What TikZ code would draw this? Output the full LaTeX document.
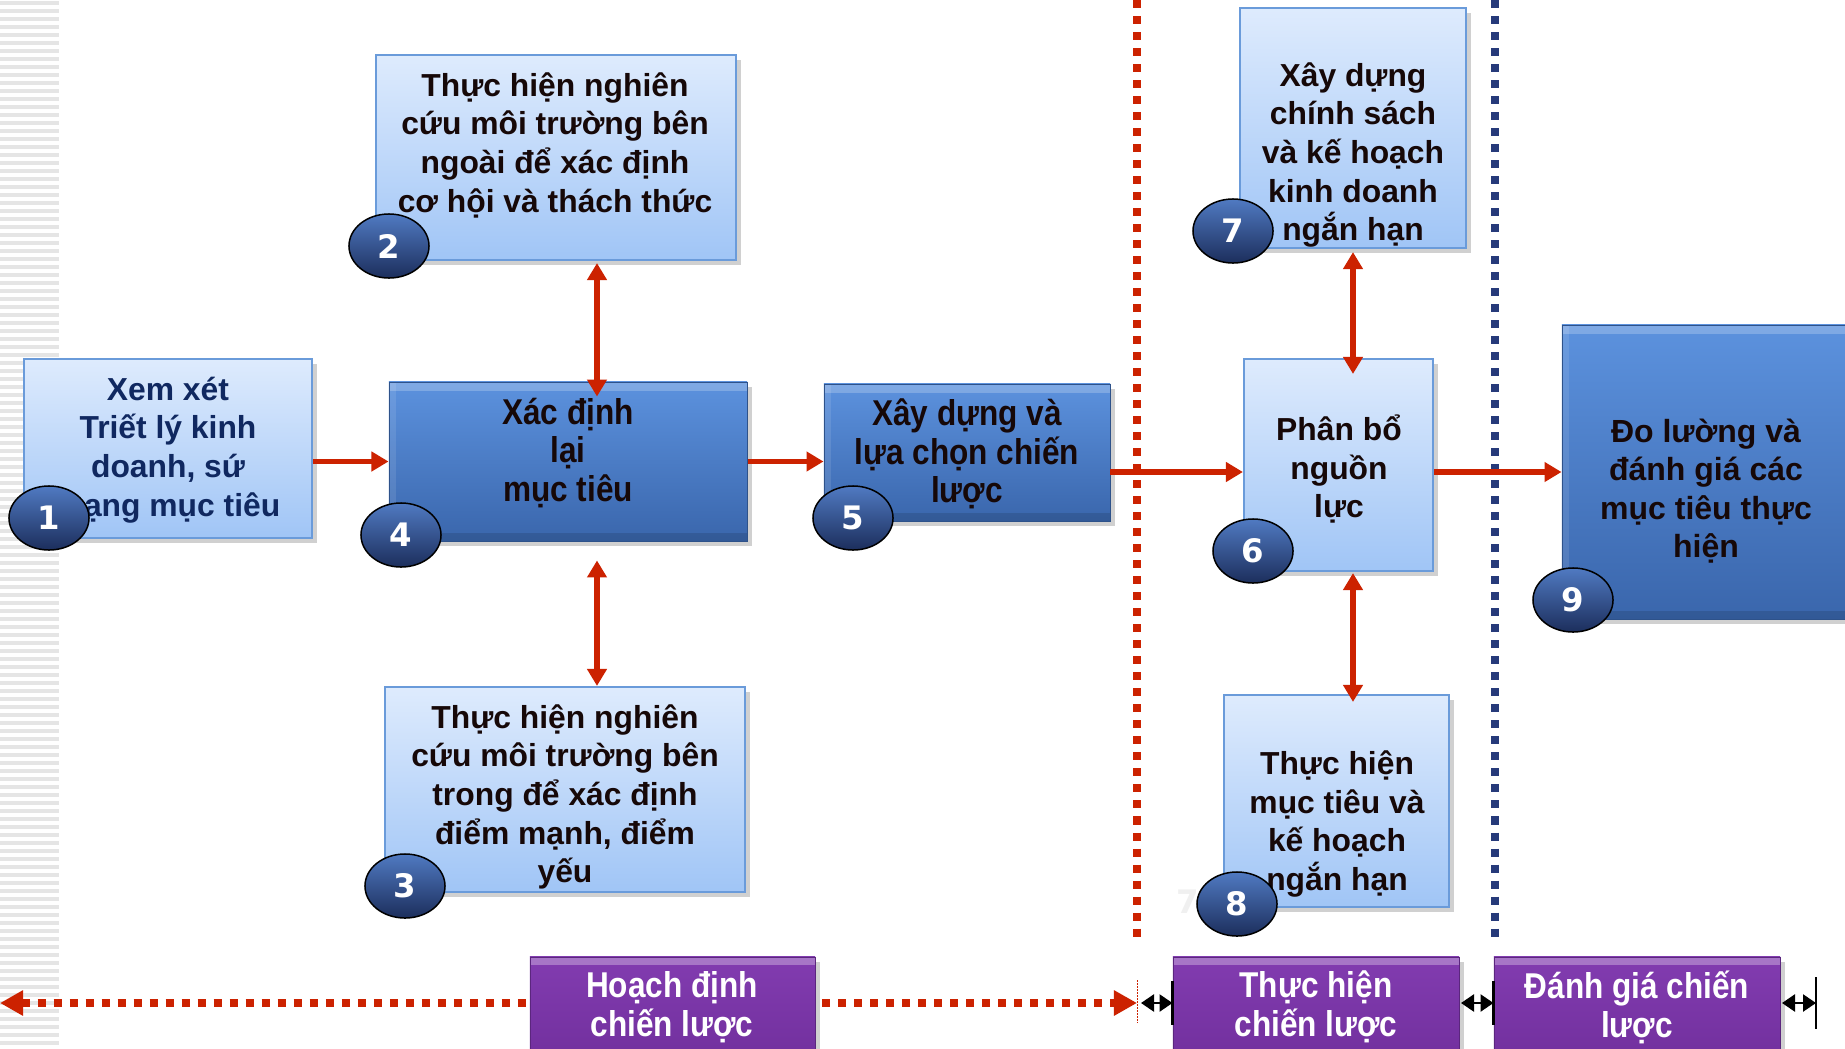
\documentclass[tikz,border=0pt]{standalone}
\usepackage{fontspec}
\setmainfont{Liberation Sans}
\newfontfamily\narrowf[FakeStretch=0.88]{Liberation Sans}
\newfontfamily\numf{DejaVu Sans}
\usetikzlibrary{arrows.meta,shapes.geometric,shadows}

\definecolor{ltop}{RGB}{222,235,253}
\definecolor{lbot}{RGB}{160,197,246}
\definecolor{lborder}{RGB}{106,155,218}
\definecolor{dtop}{RGB}{92,146,222}
\definecolor{dbot}{RGB}{58,102,172}
\definecolor{ctop}{RGB}{80,122,194}
\definecolor{cbot}{RGB}{28,46,92}
\definecolor{ptop}{RGB}{130,60,176}
\definecolor{pbot}{RGB}{114,48,158}
\definecolor{arrred}{RGB}{204,34,0}
\definecolor{navyd}{RGB}{38,58,122}
\definecolor{navyt}{RGB}{16,40,96}
\definecolor{blk}{RGB}{22,8,8}

\begin{document}
\begin{tikzpicture}[x=0.01cm,y=-0.01cm,
  shad/.style={drop shadow={shadow xshift=0.05cm,shadow yshift=-0.05cm,opacity=0.3,fill=black!60}},
  lbox/.style={shad,draw=lborder,line width=0.02cm,top color=ltop,bottom color=lbot,inner sep=0pt},
  dbox/.style={shad,draw=dbot!80!black,line width=0.008cm,top color=dtop,bottom color=dbot,inner sep=0pt,
    path picture={
      \fill[white,opacity=0.22] (path picture bounding box.north west) rectangle ([yshift=-0.09cm]path picture bounding box.north east);
      \fill[black,opacity=0.12] ([yshift=0.08cm]path picture bounding box.south west) rectangle (path picture bounding box.south east);
      \fill[white,opacity=0.10] (path picture bounding box.north west) rectangle ([xshift=0.07cm]path picture bounding box.south west);
    }},
  pbox/.style={shad,draw=pbot!80!black,line width=0.008cm,top color=ptop,bottom color=pbot,inner sep=0pt,
    path picture={
      \fill[white,opacity=0.3] (path picture bounding box.north west) rectangle ([yshift=-0.08cm]path picture bounding box.north east);
    }},
  ltxt/.style={align=center,text=blk,inner sep=0pt,font={\bfseries\fontsize{9.05pt}{11pt}\selectfont}},
  ntxt/.style={align=center,text=blk,inner sep=0pt,font={\narrowf\bfseries\fontsize{10.2pt}{11pt}\selectfont}},
  ptxt/.style={align=center,text=white,inner sep=0pt,font={\narrowf\bfseries\fontsize{10.2pt}{11.1pt}\selectfont}},
  numc/.style={ellipse,draw=black,line width=0.015cm,top color=ctop,bottom color=cbot,
    minimum width=0.8cm,minimum height=0.64cm,inner sep=0pt,text=white,
    font={\numf\bfseries\fontsize{9.2pt}{10pt}\selectfont}},
  rarrow/.style={draw=arrred,line width=0.055cm,-{Triangle[length=0.17cm,width=0.19cm]}},
  rdarrow/.style={draw=arrred,line width=0.055cm,{Triangle[length=0.17cm,width=0.19cm]}-{Triangle[length=0.17cm,width=0.19cm]}},
  reddots/.style={draw=arrred,line width=0.072cm,dash pattern=on 0.08cm off 0.08cm},
  bluedots/.style={draw=navyd,line width=0.072cm,dash pattern=on 0.08cm off 0.08cm},
  bdarrow/.style={draw=black,line width=0.025cm,{Triangle[length=0.13cm,width=0.17cm]}-{Triangle[length=0.13cm,width=0.17cm]}},
  bar/.style={draw=black,line width=0.025cm}
]
\useasboundingbox (0,0) rectangle (1845,1048);
\fill[white] (0,0) rectangle (1845,1048);

% left stripes
\foreach \yy in {3,11,...,1047} \draw[gray!20,line width=0.035cm] (0,\yy) -- (59,\yy);

% dividers
\coordinate (rdt) at (1137,0);
\coordinate (rdb) at (1137,938);
\coordinate (bdt) at (1495,0);
\coordinate (bdb) at (1495,938);
\draw[reddots] (rdt) -- (rdb);
\draw[bluedots] (bdt) -- (bdb);

% boxes
\node[lbox,minimum width=2.88cm,minimum height=1.79cm] (b1) at (168,448.5) {};
\node[lbox,minimum width=3.60cm,minimum height=2.05cm] (b2) at (556,157.5) {};
\node[dbox,minimum width=3.58cm,minimum height=1.59cm] (b4) at (568,461.5) {};
\node[dbox,minimum width=2.86cm,minimum height=1.37cm] (b5) at (967,452.5) {};
\node[lbox,minimum width=3.60cm,minimum height=2.05cm] (b3) at (565,789.5) {};
\node[lbox,minimum width=2.26cm,minimum height=2.40cm] (b7) at (1353,128) {};
\node[lbox,minimum width=1.89cm,minimum height=2.12cm] (b6) at (1338.5,465) {};
\node[lbox,minimum width=2.25cm,minimum height=2.12cm] (b8) at (1336.5,801) {};
\node[dbox,minimum width=2.92cm,minimum height=2.94cm] (b9) at (1708,472) {};

% texts
\node[ltxt,text=navyt] (t1) at (168,450) {Xem xét\\Triết lý kinh\\doanh, sứ\\mạng mục tiêu};
\node[ltxt] (t2) at (555,145) {Thực hiện nghiên\\cứu môi trường bên\\ngoài để xác định\\cơ hội và thách thức};
\node[ntxt] (t4) at (568,453) {Xác định\\lại\\mục tiêu};
\node[ntxt] (t5) at (967,454) {Xây dựng và\\lựa chọn chiến\\lược};
\node[ltxt] (t3) at (565,797) {Thực hiện nghiên\\cứu môi trường bên\\trong để xác định\\điểm mạnh, điểm\\yếu};
\node[ltxt] (t7) at (1353,155) {Xây dựng\\chính sách\\và kế hoạch\\kinh doanh\\ngắn hạn};
\node[ltxt] (t6) at (1339,469) {Phân bổ\\nguồn\\lực};
\node[ltxt] (t8) at (1337,824) {Thực hiện\\mục tiêu và\\kế hoạch\\ngắn hạn};
\node[ltxt,font={\bfseries\fontsize{9.1pt}{10.9pt}\selectfont}] (t9) at (1706,491) {Đo lường và\\đánh giá các\\mục tiêu thực\\hiện};

% arrows
\coordinate (v24) at (597,0);
\coordinate (v67) at (1353,0);
\draw[rarrow] (b1.east |- b4.west) -- (b4.west);
\draw[rarrow] (b4.east) -- (b4.east -| b5.west);
\draw[rarrow] (b5.east |- b9.west) -- (b6.west |- b9.west);
\draw[rarrow] (b6.east |- b9.west) -- (b9.west);
\draw[rdarrow] ([yshift=-0.02cm]b2.south -| v24) -- ([yshift=-0.15cm]b4.north -| v24);
\draw[rdarrow] ([yshift=-0.19cm]b4.south -| v24) -- (b3.north -| v24);
\draw[rdarrow] ([yshift=-0.03cm]b7.south -| v67) -- ([yshift=-0.16cm]b6.north -| v67);
\draw[rdarrow] ([yshift=-0.01cm]b6.south -| v67) -- ([yshift=-0.08cm]b8.north -| v67);

% bottom row
\coordinate (bl) at (0,1003);
\coordinate (br) at (1137,1003);
\draw[reddots,{Triangle[length=0.23cm,width=0.24cm]}-{Triangle[length=0.23cm,width=0.24cm]}] (bl) -- (br);
\coordinate (tdt) at (1137,980);
\coordinate (tdb) at (1137,1023);
\draw[arrred,line width=0.01cm,dash pattern=on 0.015cm off 0.015cm] (tdt) -- (tdb);

\node[pbox,minimum width=2.85cm,minimum height=1.00cm] (p1) at (672.5,1007) {};
\node[pbox,minimum width=2.86cm,minimum height=1.00cm] (p2) at (1316,1007) {};
\node[pbox,minimum width=2.86cm,minimum height=1.00cm] (p3) at (1637,1007) {};
\node[ptxt] (pt1) at (672,1007) {Hoạch định\\chiến lược};
\node[ptxt] (pt2) at (1316,1007) {Thực hiện\\chiến lược};
\node[ptxt] (pt3) at (1637,1007) {Đánh giá chiến\\lược};

\coordinate (a1) at (1141,1003);
\coordinate (a2) at (1461,1003);
\coordinate (a3) at (1782,1003);
\coordinate (e3) at (1816,1003);
\draw[bdarrow] (a1) -- (p2.west |- a1);
\draw[bdarrow] (a2) -- (p3.west |- a2);
\draw[bdarrow] (a3) -- (e3);
\draw[bar] ([yshift=0.22cm]p2.west |- a1) -- ([yshift=-0.22cm]p2.west |- a1);
\draw[bar] ([yshift=0.22cm]p3.west |- a2) -- ([yshift=-0.22cm]p3.west |- a2);
\draw[bar] ([yshift=0.26cm]e3) -- ([yshift=-0.26cm]e3);

% faint ghost digit
\node[text=gray!12,font={\numf\bfseries\fontsize{9.2pt}{10pt}\selectfont}] (g7) at (1188,902) {7};

% number circles
\node[numc] (c1) at (49,518) {1};
\node[numc] (c2) at (389,246) {2};
\node[numc] (c3) at (405,886) {3};
\node[numc] (c4) at (401,535) {4};
\node[numc] (c5) at (853,518) {5};
\node[numc] (c6) at (1253,551) {6};
\node[numc] (c7) at (1233,231) {7};
\node[numc] (c8) at (1237,904) {8};
\node[numc] (c9) at (1573,600) {9};
\end{tikzpicture}
\end{document}
